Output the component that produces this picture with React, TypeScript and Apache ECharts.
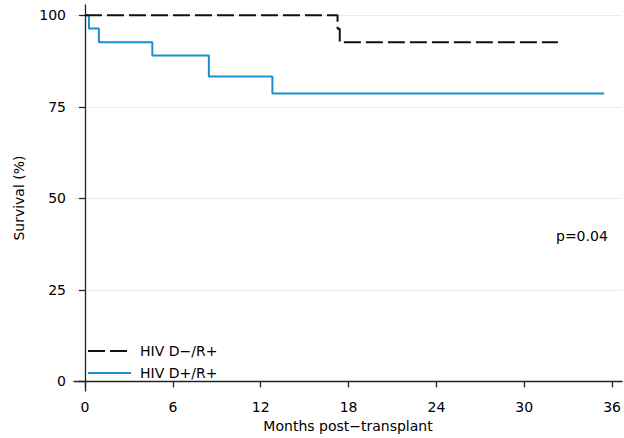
import React, { useEffect, useRef } from "react";
import * as echarts from "echarts";

const xTicks = [0, 6, 12, 18, 24, 30, 36];
const yTicks = [0, 25, 50, 75, 100];
const gridTicks = [25, 50, 75, 100];

const negMonths = [0, 17.25, 17.4, 32.3];
const negSurvival = [100, 96.3, 92.6, 92.6];

const posMonths = [0, 0.27, 0.95, 4.6, 8.46, 12.8, 35.46];
const posSurvival = [100, 96.4, 92.6, 89.0, 83.3, 78.6, 78.6];

const seriesNames = ["HIV D−/R+", "HIV D+/R+"];
const pValueText = "p=0.04";

const FONT = "'DejaVu Sans', 'Liberation Sans', Arial, sans-serif";

export default function App() {
  const ref = useRef<HTMLDivElement>(null);
  useEffect(() => {
    if (!ref.current) return;
    const chart = echarts.init(ref.current, undefined, { renderer: "svg" });
    const axisCommon = {
      axisLine: { show: true, lineStyle: { color: "#222", width: 1.3 } },
      axisTick: { show: true, length: 6, lineStyle: { color: "#222", width: 1.3 } },
      splitLine: { show: false },
    };
    chart.setOption({
      animation: false,
      backgroundColor: "#fff",
      textStyle: { fontFamily: FONT },
      grid: { left: 74, right: 0, top: 5, bottom: 44, containLabel: false },
      xAxis: {
        type: "value",
        min: -0.75,
        max: 36.68,
        ...axisCommon,
        axisTick: { ...axisCommon.axisTick, customValues: xTicks },
        axisLabel: {
          customValues: xTicks,
          color: "#000",
          fontSize: 14,
          fontFamily: FONT,
          margin: 9,
        },
        name: "Months post−transplant",
        nameLocation: "middle",
        nameGap: 26,
        nameTextStyle: { color: "#000", fontSize: 14, fontFamily: FONT },
      },
      yAxis: {
        type: "value",
        min: -2.63,
        max: 102.8,
        ...axisCommon,
        axisTick: { ...axisCommon.axisTick, customValues: yTicks },
        axisLabel: {
          customValues: yTicks,
          color: "#000",
          fontSize: 14,
          fontFamily: FONT,
          margin: 8,
        },
        name: "Survival (%)",
        nameLocation: "middle",
        nameGap: 48,
        nameTextStyle: { color: "#000", fontSize: 14, fontFamily: FONT },
      },
      legend: {
        orient: "vertical",
        left: 87,
        top: 344,
        padding: 0,
        itemWidth: 43,
        itemHeight: 14,
        itemGap: 8,
        data: seriesNames,
        itemStyle: { opacity: 0 },
        textStyle: { color: "#000", fontSize: 14, fontFamily: FONT, padding: [0, 0, 0, 4] },
      },
      graphic: [
        {
          type: "text",
          left: 556,
          top: 229,
          style: { text: pValueText, fill: "#000", font: `14px ${FONT}` },
        },
      ],
      series: [
        {
          type: "line",
          name: "grid",
          data: [],
          silent: true,
          z: 0,
          markLine: {
            silent: true,
            z: 0,
            symbol: "none",
            label: { show: false },
            lineStyle: { color: "#ebebeb", width: 1, type: "solid" },
            data: gridTicks.map((v) => ({ yAxis: v })),
          },
        },
        {
          type: "line",
          name: seriesNames[0],
          step: "end",
          symbol: "none",
          z: 3,
          data: negMonths.map((m, i) => [m, negSurvival[i]]),
          lineStyle: { color: "#111", width: 2, type: [17, 5] },
          itemStyle: { color: "#111" },
        },
        {
          type: "line",
          name: seriesNames[1],
          step: "end",
          symbol: "none",
          z: 2,
          data: posMonths.map((m, i) => [m, posSurvival[i]]),
          lineStyle: { color: "#1b8fcc", width: 2, type: "solid" },
          itemStyle: { color: "#1b8fcc" },
        },
      ],
    });
    return () => chart.dispose();
  }, []);
  return (
    <div
      ref={ref}
      style={{ position: "absolute", left: 0, top: 0, width: 624, height: 438 }}
    />
  );
}
